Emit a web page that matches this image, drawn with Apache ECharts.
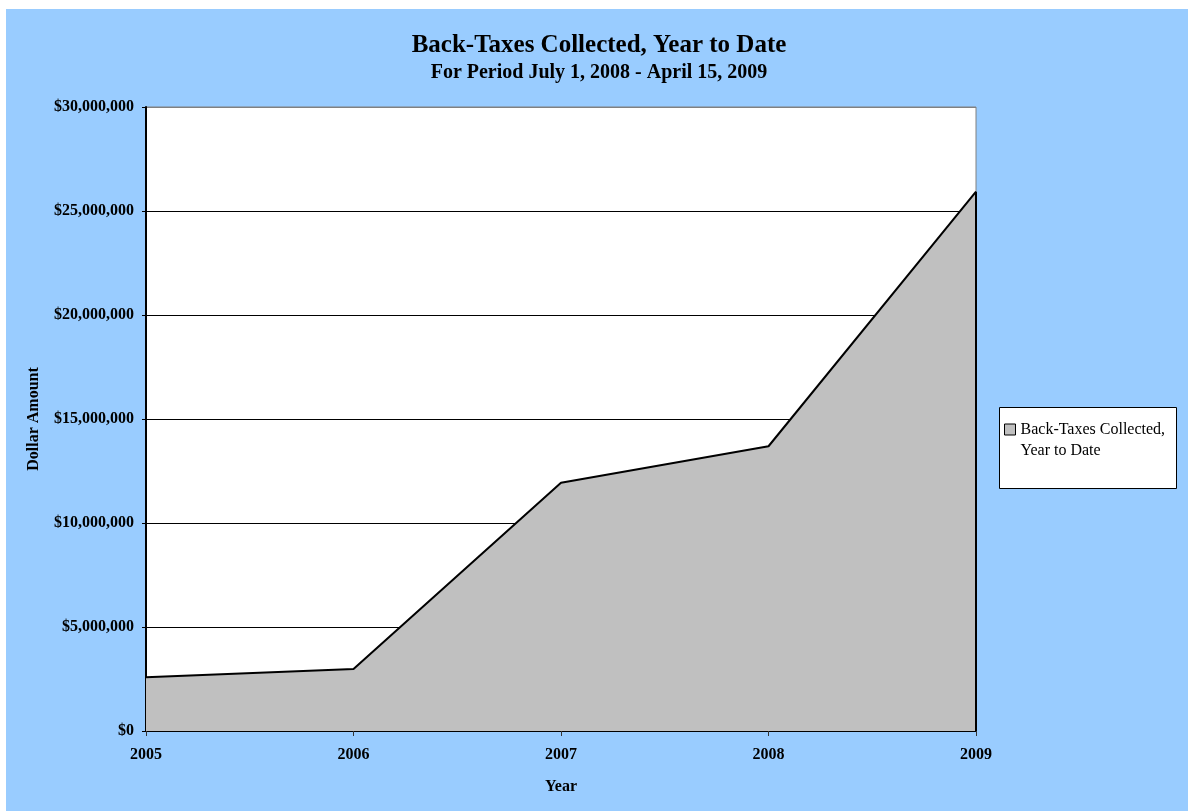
<!DOCTYPE html>
<html>
<head>
<meta charset="utf-8">
<script src="https://cdn.jsdelivr.net/npm/echarts@6/dist/echarts.min.js"></script>
<style>
  html, body { margin: 0; padding: 0; background: #ffffff; overflow: hidden; width: 1188px; height: 811px; }
  #bg { position: absolute; left: 6px; top: 9px; width: 1182px; height: 802px; background: #99CCFF; }
  #chart { position: absolute; left: 0; top: 0; width: 1198px; height: 811px; }
</style>
</head>
<body>
<div id="bg"></div>
<div id="chart"></div>
<script>
const categories = ['2005', '2006', '2007', '2008', '2009'];
const backTaxes = [2580000, 2980000, 11940000, 13690000, 25930000];
const yTicks = { min: 0, max: 30000000, interval: 5000000 };
const titleText = 'Back-Taxes Collected, Year to Date';
const subtitleText = 'For Period July 1, 2008 - April 15, 2009';
const seriesName = 'Back-Taxes Collected, Year to Date';
const legendLines = ['Back-Taxes Collected,', 'Year to Date'];

const serif = '"Liberation Serif", "Times New Roman", serif';
const chart = echarts.init(document.getElementById('chart'), null, { renderer: 'canvas' });

function money(v) {
  return '$' + String(Math.round(v)).replace(/\B(?=(\d{3})+(?!\d))/g, ',');
}

const option = {
  backgroundColor: 'transparent',
  animation: false,
  title: {
    text: titleText,
    subtext: subtitleText,
    left: 'center',
    top: 33,
    padding: 0,
    itemGap: 5,
    textStyle: { fontFamily: serif, fontWeight: 'bold', fontSize: 25, lineHeight: 25, color: '#000' },
    subtextStyle: { fontFamily: serif, fontWeight: 'bold', fontSize: 20, lineHeight: 20, color: '#000' }
  },
  grid: {
    left: 146, top: 107, width: 830, height: 624,
    show: true, backgroundColor: '#ffffff', borderColor: '#808080', borderWidth: 1,
    containLabel: false
  },
  legend: {
    data: [seriesName],
    left: 1004,
    top: 398,
    orient: 'vertical',
    padding: 0,
    icon: 'rect',
    itemWidth: 11,
    itemHeight: 11,
    selectedMode: false,
    itemStyle: { color: '#C0C0C0', borderColor: '#000', borderWidth: 1 },
    formatter: function () { return ' \n' + legendLines.join('\n'); },
    textStyle: { fontFamily: serif, fontSize: 16, lineHeight: 21, color: '#000' }
  },
  graphic: [{
    type: 'rect',
    z: 1,
    shape: { x: 999.5, y: 407.5, width: 177, height: 81 },
    style: { fill: '#ffffff', stroke: '#000', lineWidth: 1 }
  }],
  xAxis: {
    type: 'category',
    data: categories,
    boundaryGap: false,
    name: 'Year',
    nameLocation: 'middle',
    nameGap: 48,
    nameTextStyle: { fontFamily: serif, fontWeight: 'bold', fontSize: 16, color: '#000' },
    axisLine: { show: true, lineStyle: { color: '#000', width: 2 } },
    axisTick: { show: true, length: 5, inside: false, lineStyle: { color: '#333' } },
    axisLabel: { margin: 16, fontFamily: serif, fontWeight: 'bold', fontSize: 16, color: '#000' },
    splitLine: { show: false }
  },
  yAxis: {
    type: 'value',
    min: yTicks.min,
    max: yTicks.max,
    interval: yTicks.interval,
    name: 'Dollar Amount',
    nameLocation: 'middle',
    nameRotate: 90,
    nameGap: 104,
    nameTextStyle: { fontFamily: serif, fontWeight: 'bold', fontSize: 16, color: '#000' },
    axisLine: { show: true, lineStyle: { color: '#000', width: 2 } },
    axisTick: { show: true, length: 4, inside: false, lineStyle: { color: '#000' } },
    axisLabel: { margin: 12, fontFamily: serif, fontWeight: 'bold', fontSize: 16, color: '#000', formatter: money },
    splitLine: { show: true, lineStyle: { color: ['#000', '#000', '#000', '#000', '#000', '#000', '#808080'], width: 1 } }
  },
  series: [{
    name: seriesName,
    type: 'line',
    data: backTaxes,
    showSymbol: false,
    symbol: 'none',
    itemStyle: { color: '#C0C0C0' },
    lineStyle: { color: '#000', width: 2 },
    areaStyle: { color: '#C0C0C0', opacity: 1 },
    z: 3,
    markLine: {
      silent: true,
      symbol: ['none', 'none'],
      label: { show: false },
      lineStyle: { color: '#000', width: 2, type: 'solid' },
      data: [[
        { coord: [categories[categories.length - 1], 0] },
        { coord: [categories[categories.length - 1], backTaxes[backTaxes.length - 1]] }
      ]]
    }
  }]
};
chart.setOption(option);
</script>
</body>
</html>
